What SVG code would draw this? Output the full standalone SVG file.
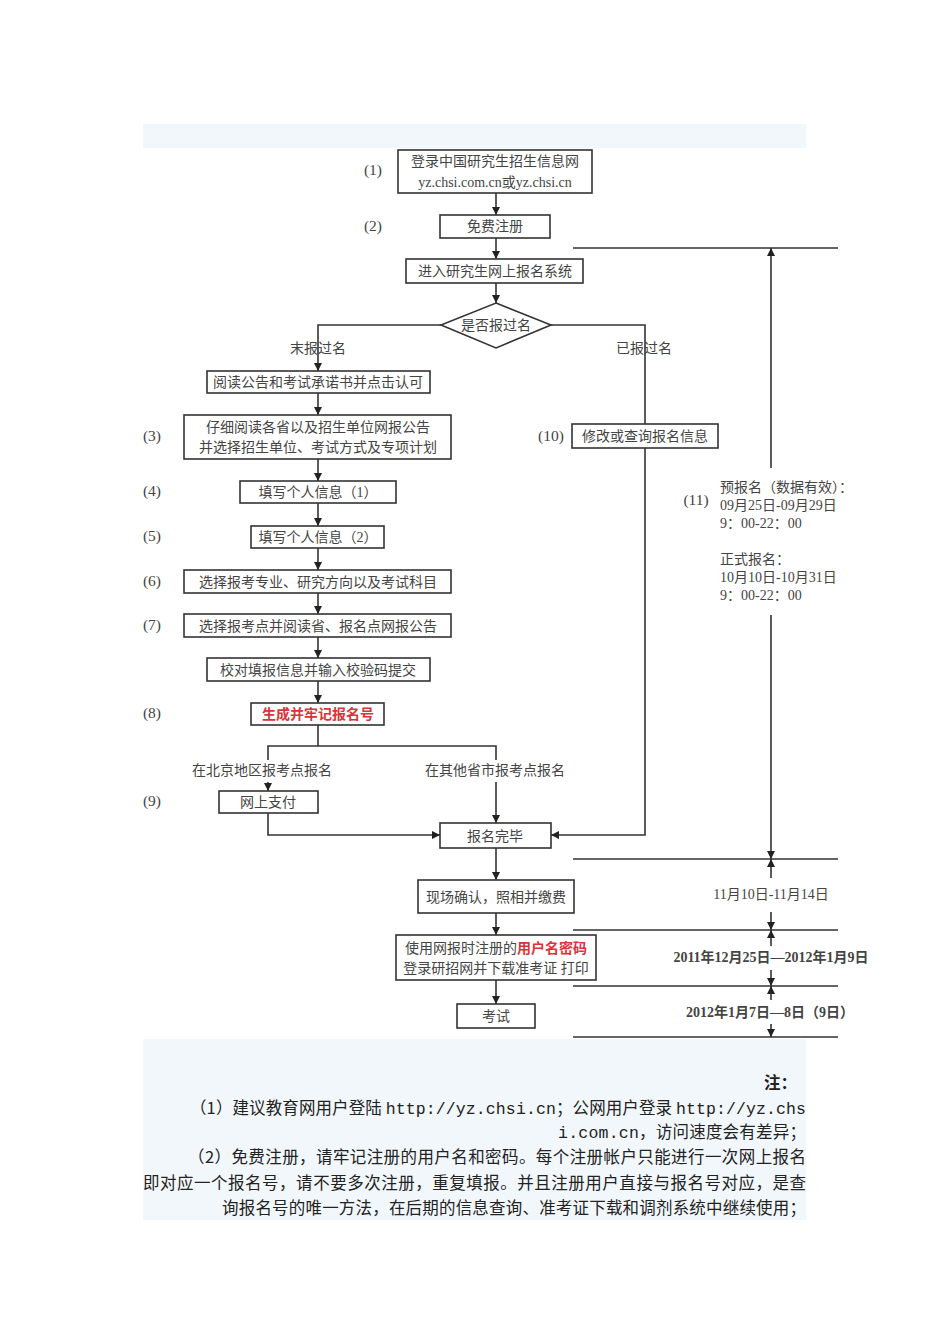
<svg xmlns="http://www.w3.org/2000/svg" width="950" height="1344" viewBox="0 0 950 1344">
<style>
.box{fill:#fff;stroke:#333;stroke-width:1.6}
.t{font-family:"Liberation Serif","Noto Sans CJK SC",serif;font-size:14px;fill:#444;text-anchor:middle}
.num{font-family:"Liberation Serif","Noto Sans CJK SC",serif;font-size:15.5px;fill:#444;text-anchor:middle}
.red{fill:#d8343a;font-weight:bold}
.ln{fill:none;stroke:#333;stroke-width:1.6}
.tl{font-family:"Liberation Serif","Noto Sans CJK SC",serif;font-size:14px;fill:#444}
.note{font-family:"Noto Sans CJK SC",sans-serif;font-size:16.5px;fill:#222;text-anchor:end}
.mono{font-family:"Liberation Mono","DejaVu Sans Mono",monospace}
</style>
<defs>
<marker id="ar" markerWidth="8" markerHeight="8" refX="8" refY="4" orient="auto" markerUnits="userSpaceOnUse">
<path d="M0,0 L8,4 L0,8 Z" fill="#222"/>
</marker>
</defs>
<rect width="950" height="1344" fill="#fff"/>
<rect x="143" y="124" width="663" height="24" fill="#f2f7fc"/>
<rect x="143" y="1039" width="663" height="181" fill="#f2f7fc"/>

<g id="connectors">
<path class="ln" d="M496,193 V215" marker-end="url(#ar)"/>
<path class="ln" d="M496,238 V259" marker-end="url(#ar)"/>
<path class="ln" d="M496,283 V303" marker-end="url(#ar)"/>
<path class="ln" d="M441,325 H318 V371" marker-end="url(#ar)"/>
<path class="ln" d="M551,325 H645 V424"/>
<path class="ln" d="M318,393 V415" marker-end="url(#ar)"/>
<path class="ln" d="M318,459 V481" marker-end="url(#ar)"/>
<path class="ln" d="M318,503 V526" marker-end="url(#ar)"/>
<path class="ln" d="M318,548 V570" marker-end="url(#ar)"/>
<path class="ln" d="M318,593 V614" marker-end="url(#ar)"/>
<path class="ln" d="M318,637 V658" marker-end="url(#ar)"/>
<path class="ln" d="M318,681 V703" marker-end="url(#ar)"/>
<path class="ln" d="M318,725 V746 M268,760 V746 H496 V760"/>
<path class="ln" d="M268,782 V791" marker-end="url(#ar)"/>
<path class="ln" d="M496,782 V823" marker-end="url(#ar)"/>
<path class="ln" d="M268,813 V835 H440" marker-end="url(#ar)"/>
<path class="ln" d="M645,448 V835 H551" marker-end="url(#ar)"/>
<path class="ln" d="M496,848 V880" marker-end="url(#ar)"/>
<path class="ln" d="M496,913 V935" marker-end="url(#ar)"/>
<path class="ln" d="M496,980 V1004" marker-end="url(#ar)"/>
<path class="ln" d="M573,248 H838 M573,859 H838 M573,930 H838 M573,986 H838 M573,1037 H838"/>
<path class="ln" d="M771,468 V248" marker-end="url(#ar)"/>
<path class="ln" d="M771,615 V859" marker-end="url(#ar)"/>
<path class="ln" d="M771,878 V859" marker-end="url(#ar)"/>
<path class="ln" d="M771,912 V930" marker-end="url(#ar)"/>
<path class="ln" d="M771,946 V930" marker-end="url(#ar)"/>
<path class="ln" d="M771,970 V986" marker-end="url(#ar)"/>
<path class="ln" d="M771,1000 V986" marker-end="url(#ar)"/>
<path class="ln" d="M771,1024 V1037" marker-end="url(#ar)"/>
</g>

<g id="n1"><rect class="box" x="398" y="150" width="194" height="43"/>
<text class="t" x="495" y="166">登录中国研究生招生信息网</text>
<text class="t" x="495" y="187" font-size="15">yz.chsi.com.cn或yz.chsi.cn</text></g>
<g id="n2"><rect class="box" x="440" y="215" width="110" height="23"/>
<text class="t" x="495" y="231">免费注册</text></g>
<g id="n3"><rect class="box" x="406" y="259" width="177" height="24"/>
<text class="t" x="495" y="276">进入研究生网上报名系统</text></g>
<g id="n4"><polygon class="box" points="496,303 551,325 496,348 441,325"/>
<text class="t" x="496" y="330">是否报过名</text></g>
<g id="lbl-no"><text class="t" x="318" y="353">末报过名</text></g>
<g id="lbl-yes"><text class="t" x="644" y="353">已报过名</text></g>
<g id="n5"><rect class="box" x="207" y="371" width="223" height="22"/>
<text class="t" x="318" y="387">阅读公告和考试承诺书并点击认可</text></g>
<g id="n6"><rect class="box" x="184" y="415" width="267" height="44"/>
<text class="t" x="318" y="432">仔细阅读各省以及招生单位网报公告</text>
<text class="t" x="318" y="452">并选择招生单位、考试方式及专项计划</text></g>
<g id="n7"><rect class="box" x="240" y="481" width="156" height="22"/>
<text class="t" x="318" y="497">填写个人信息（1）</text></g>
<g id="n8"><rect class="box" x="251" y="526" width="133" height="22"/>
<text class="t" x="318" y="542">填写个人信息（2）</text></g>
<g id="n9"><rect class="box" x="184" y="570" width="267" height="23"/>
<text class="t" x="318" y="587">选择报考专业、研究方向以及考试科目</text></g>
<g id="n10"><rect class="box" x="184" y="614" width="267" height="23"/>
<text class="t" x="318" y="631">选择报考点并阅读省、报名点网报公告</text></g>
<g id="n11"><rect class="box" x="207" y="658" width="223" height="23"/>
<text class="t" x="318" y="675">校对填报信息并输入校验码提交</text></g>
<g id="n12"><rect class="box" x="251" y="703" width="133" height="22"/>
<text class="t red" x="318" y="719">生成并牢记报名号</text></g>
<g id="lbl-bj"><text class="t" x="262" y="775">在北京地区报考点报名</text></g>
<g id="lbl-other"><text class="t" x="495" y="775">在其他省市报考点报名</text></g>
<g id="n13"><rect class="box" x="219" y="791" width="99" height="22"/>
<text class="t" x="268" y="807">网上支付</text></g>
<g id="n14"><rect class="box" x="440" y="823" width="111" height="25"/>
<text class="t" x="495" y="841">报名完毕</text></g>
<g id="n15"><rect class="box" x="572" y="424" width="146" height="24"/>
<text class="t" x="645" y="441">修改或查询报名信息</text></g>
<g id="n16"><rect class="box" x="418" y="880" width="156" height="33"/>
<text class="t" x="496" y="902">现场确认，照相并缴费</text></g>
<g id="n17"><rect class="box" x="396" y="935" width="200" height="45"/>
<text class="t" x="496" y="953">使用网报时注册的<tspan class="red">用户名密码</tspan></text>
<text class="t" x="496" y="973">登录研招网并下载准考证 打印</text></g>
<g id="n18"><rect class="box" x="457" y="1004" width="78" height="24"/>
<text class="t" x="496" y="1021">考试</text></g>

<g id="step-numbers">
<text class="num" x="373" y="175">(1)</text>
<text class="num" x="373" y="231">(2)</text>
<text class="num" x="152" y="441">(3)</text>
<text class="num" x="152" y="496">(4)</text>
<text class="num" x="152" y="541">(5)</text>
<text class="num" x="152" y="586">(6)</text>
<text class="num" x="152" y="630">(7)</text>
<text class="num" x="152" y="718">(8)</text>
<text class="num" x="152" y="806">(9)</text>
<text class="num" x="551" y="441">(10)</text>
<text class="num" x="696" y="505">(11)</text>
</g>

<g id="timeline-text">
<text class="tl" x="720" y="492">预报名（数据有效）：</text>
<text class="tl" x="720" y="510">09月25日-09月29日</text>
<text class="tl" x="720" y="528">9：00-22：00</text>
<text class="tl" x="720" y="564">正式报名：</text>
<text class="tl" x="720" y="582">10月10日-10月31日</text>
<text class="tl" x="720" y="600">9：00-22：00</text>
<text class="tl" x="771" y="899" text-anchor="middle">11月10日-11月14日</text>
<text class="tl" x="771" y="962" text-anchor="middle" font-weight="bold" font-size="12">2011年12月25日—2012年1月9日</text>
<text class="tl" x="770" y="1017" text-anchor="middle" font-weight="bold" font-size="12">2012年1月7日—8日（9日）</text>
</g>

<g id="notes">
<text class="note" x="797" y="1089" font-weight="bold">注：</text>
<text class="note" x="806" y="1114" textLength="616" lengthAdjust="spacing">（1）建议教育网用户登陆 <tspan class="mono">http://yz.chsi.cn</tspan>；公网用户登录 <tspan class="mono">http://yz.chs</tspan></text>
<text class="note" x="806" y="1138" textLength="248" lengthAdjust="spacing"><tspan class="mono">i.com.cn</tspan>，访问速度会有差异；</text>
<text class="note" x="806" y="1163" textLength="618" lengthAdjust="spacing">（2）免费注册，请牢记注册的用户名和密码。每个注册帐户只能进行一次网上报名</text>
<text class="note" x="806" y="1189" textLength="663" lengthAdjust="spacing">即对应一个报名号，请不要多次注册，重复填报。并且注册用户直接与报名号对应，是查</text>
<text class="note" x="806" y="1214" textLength="584" lengthAdjust="spacing">询报名号的唯一方法，在后期的信息查询、准考证下载和调剂系统中继续使用；</text>
</g>
</svg>
